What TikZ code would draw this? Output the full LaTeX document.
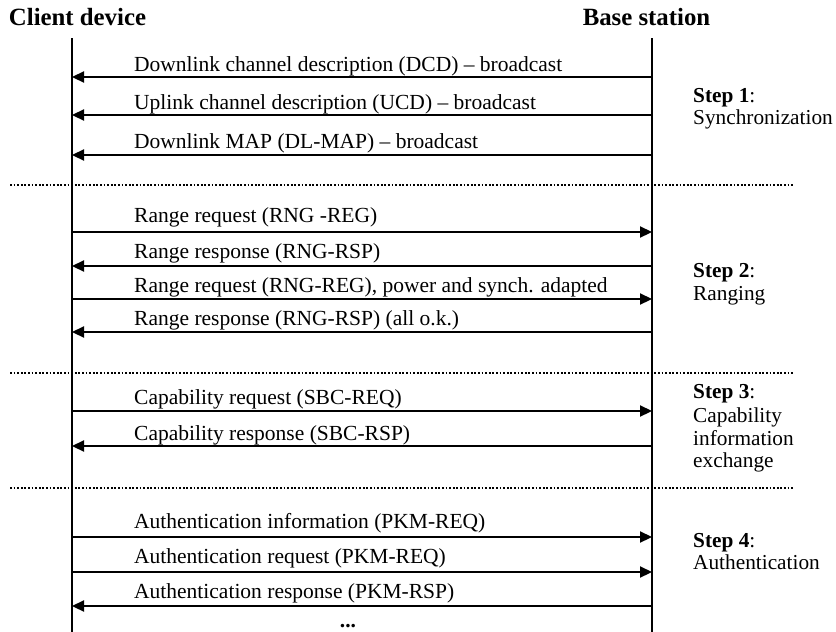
\documentclass[tikz,border=0pt]{standalone}
\usepackage{fontspec}
\setmainfont{Liberation Serif}
\usetikzlibrary{arrows.meta}
\tikzset{
  life/.style={line width=2.6pt},
  msg/.style={line width=2.2pt, -{Triangle[length=12pt,width=11pt]}},
  sep/.style={line width=1.8pt, dash pattern=on 1.8pt off 1.8pt},
  lbl/.style={anchor=base west, inner sep=0pt, font=\fontsize{21.5}{23}\selectfont},
  head/.style={anchor=base, inner sep=0pt, font=\fontsize{24.8}{26}\selectfont\bfseries},
  steplbl/.style={anchor=base west, inner sep=0pt, font=\fontsize{21.3}{23}\selectfont}
}
\begin{document}
\begin{tikzpicture}[x=1pt,y=-1pt]
\useasboundingbox (0,0) rectangle (836,632);
% headers
\node[head] (cd) at (77.5,25) {Client device};
\node[head] (bs) at (646.5,25) {Base station};
% lifelines
\coordinate (Ltop) at (72,38);
\coordinate (Lbot) at (72,632);
\coordinate (Rtop) at (652,38);
\coordinate (Rbot) at (652,632);
\draw[life] (Ltop) -- (Lbot);
\draw[life] (Rtop) -- (Rbot);
% message coordinates
\foreach \n/\y in {1/77,2/115,3/155,4/232,5/266,6/299,7/332,8/411,9/446,10/537,11/572,12/606}{
  \coordinate (L\n) at (72,\y);
  \coordinate (R\n) at (652,\y);
}
% messages
\draw[msg] (R1) -- (L1);
\draw[msg] (R2) -- (L2);
\draw[msg] (R3) -- (L3);
\draw[msg] (L4) -- (R4);
\draw[msg] (R5) -- (L5);
\draw[msg] (L6) -- (R6);
\draw[msg] (R7) -- (L7);
\draw[msg] (L8) -- (R8);
\draw[msg] (R9) -- (L9);
\draw[msg] (L10) -- (R10);
\draw[msg] (L11) -- (R11);
\draw[msg] (R12) -- (L12);
% labels
\node[lbl] (m1) at (134,71) {Downlink channel description (DCD) -- broadcast};
\node[lbl] (m2) at (134,109) {Uplink channel description (UCD) -- broadcast};
\node[lbl] (m3) at (134,148) {Downlink MAP (DL-MAP) -- broadcast};
\node[lbl] (m4) at (134,222) {Range request (RNG -REG)};
\node[lbl] (m5) at (134,258) {Range response (RNG-RSP)};
\node[lbl] (m6) at (134,292) {Range request (RNG-REG), power and synch. adapted};
\node[lbl] (m7) at (134,325) {Range response (RNG-RSP) (all o.k.)};
\node[lbl] (m8) at (134,404) {Capability request (SBC-REQ)};
\node[lbl] (m9) at (134,440) {Capability response (SBC-RSP)};
\node[lbl] (m10) at (134,528) {Authentication information (PKM-REQ)};
\node[lbl] (m11) at (134,563) {Authentication request (PKM-REQ)};
\node[lbl] (m12) at (134,598) {Authentication response (PKM-RSP)};
\node[anchor=base, inner sep=0pt, font=\fontsize{21.5}{23}\selectfont\bfseries] (dots) at (348,627) {...};
% separators
\coordinate (s1a) at (10,185); \coordinate (s1b) at (793,185);
\coordinate (s2a) at (10,373); \coordinate (s2b) at (793,373);
\coordinate (s3a) at (10,488); \coordinate (s3b) at (793,488);
\draw[sep] (s1a) -- (s1b);
\draw[sep] (s2a) -- (s2b);
\draw[sep] (s3a) -- (s3b);
% steps
\node[steplbl] (st1a) at (693,102) {\textbf{Step 1}:};
\node[steplbl] (st1b) at (693,124) {Synchronization};
\node[steplbl] (st2a) at (693,277) {\textbf{Step 2}:};
\node[steplbl] (st2b) at (693,300) {Ranging};
\node[steplbl] (st3a) at (693,398) {\textbf{Step 3}:};
\node[steplbl] (st3b) at (693,422) {Capability};
\node[steplbl] (st3c) at (693,445) {information};
\node[steplbl] (st3d) at (693,467) {exchange};
\node[steplbl] (st4a) at (693,547) {\textbf{Step 4}:};
\node[steplbl] (st4b) at (693,569) {Authentication};
\end{tikzpicture}
\end{document}
